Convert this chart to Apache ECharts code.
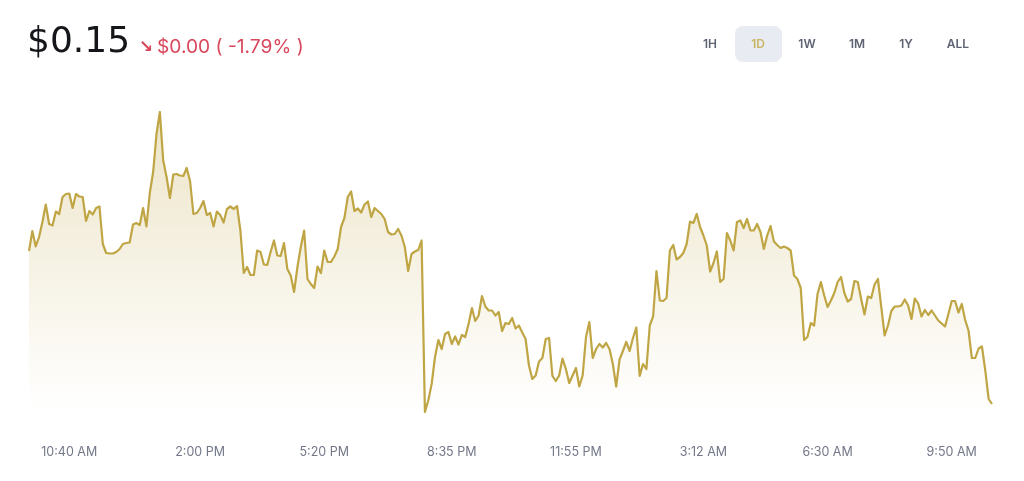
<!DOCTYPE html>
<html>
<head>
<meta charset="utf-8">
<title>Price chart</title>
<style>
html,body{margin:0;padding:0;background:#fff}
#chart{width:1024px;height:481px}
</style>
<script src="https://cdn.jsdelivr.net/npm/echarts@6/dist/echarts.min.js"></script>
</head>
<body>
<div id="chart"></div>
<script>
// prices, one every few minutes, in 1/100000 dollar
var prices = [
15306,15346,15315,15334,15364,15399,15360,15357,15385,15380,
15414,15420,15421,15392,15420,15415,15414,15366,15386,15379,
15392,15395,15320,15302,15301,15301,15304,15310,15320,15322,
15323,15359,15362,15358,15392,15355,15422,15464,15540,15584,
15487,15454,15412,15459,15460,15457,15456,15472,15446,15380,
15382,15392,15406,15378,15382,15355,15385,15378,15363,15390,
15395,15390,15396,15347,15262,15274,15258,15258,15307,15304,
15279,15278,15304,15327,15297,15296,15322,15270,15257,15224,
15274,15314,15347,15250,15240,15232,15275,15262,15307,15284,
15284,15295,15310,15354,15372,15414,15425,15386,15391,15383,
15399,15405,15374,15392,15386,15380,15370,15344,15339,15340,
15350,15337,15314,15266,15300,15305,15308,15327,14984,15007,
15040,15094,15128,15110,15140,15144,15120,15135,15119,15138,
15134,15160,15192,15166,15177,15216,15195,15187,15187,15177,
15184,15146,15162,15160,15172,15151,15157,15143,15130,15077,
15050,15057,15085,15092,15130,15132,15056,15046,15057,15091,
15070,15042,15057,15072,15035,15057,15134,15164,15092,15110,
15120,15113,15122,15110,15080,15035,15089,15106,15124,15106,
15132,15153,15056,15080,15070,15157,15175,15266,15207,15206,
15212,15307,15318,15289,15294,15302,15320,15365,15362,15380,
15354,15337,15317,15265,15282,15305,15244,15250,15342,15327,
15307,15364,15367,15352,15370,15347,15347,15360,15344,15310,
15337,15356,15325,15318,15312,15315,15312,15307,15257,15250,
15232,15128,15134,15162,15157,15220,15244,15217,15194,15207,
15222,15244,15254,15222,15205,15210,15246,15244,15210,15179,
15215,15212,15239,15250,15194,15137,15157,15186,15195,15195,
15197,15209,15197,15170,15211,15201,15175,15188,15178,15187,
15177,15167,15161,15155,15180,15206,15206,15183,15200,15168,
15147,15092,15092,15111,15115,15067,15010,15000
];
var tickLabels = ['10:40 AM','2:00 PM','5:20 PM','8:35 PM','11:55 PM','3:12 AM','6:30 AM','9:50 AM'];
var tickIndex = [12,51,88,126,163,201,238,275];
var ranges = ['1H','1D','1W','1M','1Y','ALL'];
var rangeX = [710,758,807,857,906,958];
var activeRange = '1D';

var categories = prices.map(function(p,i){
	var k = tickIndex.indexOf(i);
	return k>=0 ? tickLabels[k] : '';
});

var graphics = [
	{type:'text',left:27,top:25,style:{text:'$0.15',font:'36px "DejaVu Sans",sans-serif',fill:'#14161a'}},
	{type:'text',left:139,top:39,style:{text:'↘',font:'bold 17px "DejaVu Sans",sans-serif',fill:'#d9475c'}},
	{type:'text',left:157,top:38,style:{text:'$0.00 ( -1.79% )',font:'19.2px Inter,sans-serif',fill:'#d9475c'}},
	{type:'rect',shape:{x:735,y:26,width:47,height:36,r:8},style:{fill:'#e8ebf2'}}
];
ranges.forEach(function(r,i){
	graphics.push({type:'text',x:rangeX[i],y:44,style:{
		text:r,align:'center',verticalAlign:'middle',
		font:'600 12px Inter,sans-serif',
		fill:r==activeRange?'#c9b664':'#5f6475'
	}});
});

var myChart = echarts.init(document.getElementById('chart'));
var option = {
	animation:false,
	graphic:graphics,
	grid:{left:29,right:32,top:112,bottom:69},
	xAxis:{
		type:'category',
		data:categories,
		boundaryGap:false,
		axisLine:{show:false},
		axisTick:{show:false},
		splitLine:{show:false},
		axisLabel:{
			interval:0,
			hideOverlap:false,
			margin:34,
			color:'#737889',
			fontSize:12.5,
			fontFamily:'Inter,sans-serif'
		}
	},
	yAxis:{
		type:'value',
		min:14984,
		max:15584,
		show:false
	},
	series:[{
		type:'line',
		data:prices,
		showSymbol:false,
		lineStyle:{color:'#bfa544',width:2.2,join:'round'},
		areaStyle:{
			color:new echarts.graphic.LinearGradient(0,0,0,1,[
				{offset:0,color:'rgba(193,165,70,0.42)'},
				{offset:1,color:'rgba(193,165,70,0)'}
			])
		}
	}]
};
myChart.setOption(option);
</script>
</body>
</html>
